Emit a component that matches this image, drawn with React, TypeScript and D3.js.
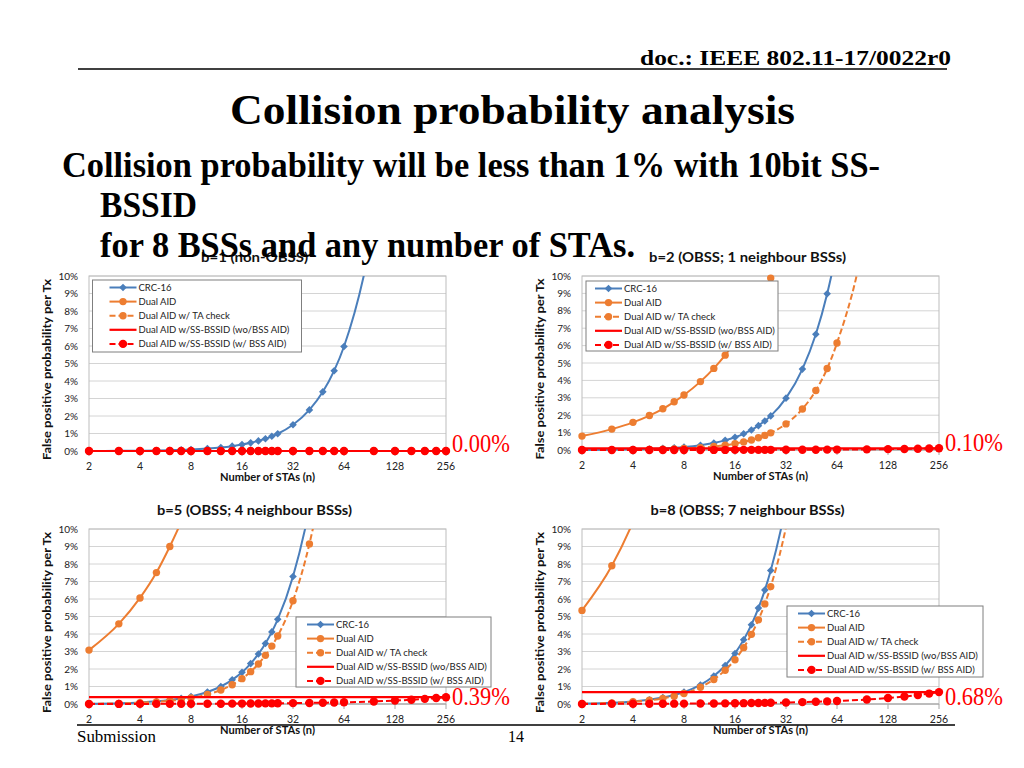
import React from "react";
import * as d3 from "d3";

// ---------- DATA ----------
const STA_COUNTS = [2, 3, 4, 5, 6, 7, 8, 10, 12, 14, 16, 18, 20, 22, 24, 26, 32, 40, 48, 56, 64, 96, 128, 160, 192, 224, 256];
const X_TICKS = [2, 4, 8, 16, 32, 64, 128, 256];
const Y_TICKS = [0, 1, 2, 3, 4, 5, 6, 7, 8, 9, 10];
const SERIES_NAMES = [
  "CRC-16",
  "Dual AID",
  "Dual AID w/ TA check",
  "Dual AID w/SS-BSSID (wo/BSS AID)",
  "Dual AID w/SS-BSSID (w/ BSS AID)",
];
const PANEL_TITLES = [
  "b=1 (non-OBSS)",
  "b=2 (OBSS; 1 neighbour BSSs)",
  "b=5 (OBSS; 4 neighbour BSSs)",
  "b=8 (OBSS; 7 neighbour BSSs)",
];
const END_LABELS = ["0.00%", "0.10%", "0.39%", "0.68%"];
const HEADER_DOC = "doc.: IEEE 802.11-17/0022r0";
const SLIDE_TITLE = "Collision probability analysis";
const BODY_LINES = [
  "Collision probability will be less than 1% with 10bit SS-",
  "BSSID",
  "for 8 BSSs and any number of STAs.",
];
const FOOTER_LEFT = "Submission";
const PAGE_NUMBER = "14";
const Y_AXIS_TITLE = "False positive probability per Tx";
const X_AXIS_TITLE = "Number of STAs (n)";

// values in percent, one per STA count
// b = 1
const CRC_B1 = [0.003, 0.009, 0.018, 0.031, 0.046, 0.064, 0.085, 0.137, 0.2, 0.278, 0.366, 0.466, 0.578, 0.702, 0.839, 0.987, 1.5, 2.35, 3.38, 4.59, 5.97, 13.0, 22.0, 32.2, 42.9, 53.4, 63.1];
const DUAL_B1 = [0, 0, 0, 0, 0, 0, 0, 0, 0, 0, 0, 0, 0, 0, 0, 0, 0, 0, 0, 0, 0, 0, 0, 0, 0, 0, 0];
const TA_B1 = [0, 0, 0, 0, 0, 0, 0, 0, 0, 0, 0, 0, 0, 0, 0, 0, 0, 0, 0, 0, 0, 0, 0, 0, 0, 0, 0];
const SSB_WO_B1 = [0, 0, 0, 0, 0, 0, 0, 0, 0, 0, 0, 0, 0, 0, 0, 0, 0, 0, 0, 0, 0, 0, 0, 0, 0, 0, 0];
const SSB_W_B1 = [0, 0, 0, 0, 0, 0, 0, 0, 0, 0, 0, 0, 0, 0, 0, 0, 0, 0, 0, 0, 0, 0, 0, 0, 0, 0, 0];
// b = 2
const CRC_B2 = [0.006, 0.018, 0.037, 0.061, 0.092, 0.128, 0.171, 0.274, 0.402, 0.554, 0.73, 0.93, 1.15, 1.4, 1.67, 1.96, 2.98, 4.65, 6.65, 8.98, 11.6, 24.3, 39.1, 54.0, 67.2, 78.3, 86.4];
const DUAL_B2 = [0.8, 1.2, 1.59, 1.98, 2.37, 2.77, 3.16, 3.93, 4.69, 5.45, 6.21, 6.96, 7.7, 8.43, 9.17, 9.88, 12.0, 14.8, 17.5, 20.1, 22.6, 31.9, 40.1, 47.4, 53.8, 59.2, 64.2];
const TA_B2 = [0.003, 0.009, 0.018, 0.031, 0.046, 0.064, 0.085, 0.137, 0.2, 0.278, 0.366, 0.466, 0.578, 0.702, 0.839, 0.987, 1.5, 2.36, 3.42, 4.68, 6.15, 13.0, 22.0, 32.2, 42.9, 53.4, 63.1];
const SSB_WO_B2 = [0.098, 0.098, 0.098, 0.098, 0.098, 0.098, 0.098, 0.098, 0.098, 0.098, 0.098, 0.098, 0.098, 0.098, 0.098, 0.098, 0.098, 0.098, 0.098, 0.098, 0.098, 0.098, 0.098, 0.098, 0.098, 0.098, 0.098];
const SSB_W_B2 = [0.001, 0.001, 0.002, 0.002, 0.002, 0.003, 0.003, 0.004, 0.005, 0.005, 0.006, 0.007, 0.008, 0.008, 0.009, 0.01, 0.012, 0.015, 0.018, 0.021, 0.024, 0.037, 0.049, 0.061, 0.073, 0.086, 0.098];
// b = 5
const CRC_B5 = [0.015, 0.046, 0.092, 0.153, 0.229, 0.32, 0.426, 0.684, 1.0, 1.38, 1.81, 2.31, 2.86, 3.46, 4.12, 4.84, 7.29, 11.2, 15.8, 20.9, 26.5, 50.1, 71.0, 85.6, 93.9, 97.8, 99.3];
const DUAL_B5 = [3.08, 4.58, 6.06, 7.51, 9.0, 10.4, 11.7, 14.5, 17.1, 19.6, 22.1, 24.5, 26.8, 29.1, 31.3, 33.4, 39.4, 46.6, 52.9, 58.4, 63.3, 77.6, 86.6, 91.9, 95.1, 97.0, 98.2];
const TA_B5 = [0.012, 0.037, 0.073, 0.122, 0.183, 0.256, 0.341, 0.548, 0.8, 1.1, 1.45, 1.85, 2.29, 2.78, 3.31, 3.89, 5.9, 9.15, 12.9, 17.1, 21.8, 42.6, 62.8, 78.8, 89.3, 95.3, 98.2];
const SSB_WO_B5 = [0.39, 0.39, 0.39, 0.39, 0.39, 0.39, 0.39, 0.39, 0.39, 0.39, 0.39, 0.39, 0.39, 0.39, 0.39, 0.39, 0.39, 0.39, 0.39, 0.39, 0.39, 0.39, 0.39, 0.39, 0.39, 0.39, 0.39];
const SSB_W_B5 = [0.003, 0.005, 0.006, 0.008, 0.009, 0.011, 0.012, 0.015, 0.018, 0.021, 0.024, 0.027, 0.03, 0.034, 0.037, 0.04, 0.049, 0.061, 0.073, 0.085, 0.097, 0.146, 0.195, 0.244, 0.293, 0.341, 0.39];
// b = 8
const CRC_B8 = [0.024, 0.073, 0.146, 0.244, 0.366, 0.51, 0.68, 1.09, 1.6, 2.2, 2.89, 3.67, 4.53, 5.48, 6.51, 7.63, 11.4, 17.3, 24.1, 31.3, 38.8, 67.1, 86.2, 95.5, 98.8, 99.8, 100];
const DUAL_B8 = [5.35, 7.9, 10.4, 12.8, 15.1, 17.4, 19.6, 23.9, 27.9, 31.6, 35.1, 38.4, 41.6, 44.5, 47.3, 49.9, 57.0, 65.0, 71.6, 77.0, 81.3, 92.0, 96.7, 98.6, 99.4, 99.8, 99.9];
const TA_B8 = [0.021, 0.064, 0.128, 0.214, 0.32, 0.448, 0.596, 0.957, 1.4, 1.93, 2.53, 3.22, 3.98, 4.81, 5.72, 6.71, 10.1, 15.3, 21.4, 28.0, 35.0, 62.2, 82.4, 93.4, 98.0, 99.5, 99.9];
const SSB_WO_B8 = [0.68, 0.68, 0.68, 0.68, 0.68, 0.68, 0.68, 0.68, 0.68, 0.68, 0.68, 0.68, 0.68, 0.68, 0.68, 0.68, 0.68, 0.68, 0.68, 0.68, 0.68, 0.68, 0.68, 0.68, 0.68, 0.68, 0.68];
const SSB_W_B8 = [0.005, 0.008, 0.011, 0.013, 0.016, 0.019, 0.021, 0.027, 0.032, 0.037, 0.042, 0.048, 0.053, 0.058, 0.064, 0.069, 0.085, 0.106, 0.127, 0.149, 0.17, 0.255, 0.34, 0.425, 0.51, 0.595, 0.68];

const PANEL_DATA = [
  [CRC_B1, DUAL_B1, TA_B1, SSB_WO_B1, SSB_W_B1],
  [CRC_B2, DUAL_B2, TA_B2, SSB_WO_B2, SSB_W_B2],
  [CRC_B5, DUAL_B5, TA_B5, SSB_WO_B5, SSB_W_B5],
  [CRC_B8, DUAL_B8, TA_B8, SSB_WO_B8, SSB_W_B8],
];

// ---------- STYLE / LAYOUT ----------
const BLUE = "#4A7EBB";
const ORANGE = "#ED7D31";
const RED = "#FF0000";
const SERIES_STYLE = [
  { color: BLUE, dash: null, marker: "diamond", r: 3.8, width: 2 },
  { color: ORANGE, dash: null, marker: "circle", r: 3.7, width: 2 },
  { color: ORANGE, dash: "6,3", marker: "circle", r: 3.7, width: 2 },
  { color: RED, dash: null, marker: "none", r: 0, width: 2.2 },
  { color: RED, dash: "6,3", marker: "circle", r: 4.2, width: 2 },
];
const LAYOUT = [
  { x0: 89, x1: 446, y0: 276, y1: 451, lg: { x: 92.5, y: 280, w: 209, h: 72, pad: 17 }, titleW: 107, endX: 452 },
  { x0: 582, x1: 939, y0: 276, y1: 450, lg: { x: 586, y: 281, w: 192, h: 70, pad: 9 }, titleW: 197, endX: 945 },
  { x0: 89, x1: 446, y0: 529, y1: 704, lg: { x: 296, y: 617, w: 195, h: 70, pad: 11 }, titleW: 195, endX: 452 },
  { x0: 582, x1: 939, y0: 529, y1: 704, lg: { x: 787, y: 606, w: 196, h: 71, pad: 11 }, titleW: 194, endX: 945 },
];
const SANS = "Lato, 'Liberation Sans', sans-serif";
const SERIF = "'Liberation Serif', 'Times New Roman', serif";

function Marker({ kind, x, y, r, color }: any) {
  if (kind === "diamond") {
    return <path d={`M${x},${y - r}L${x + r},${y}L${x},${y + r}L${x - r},${y}Z`} fill={color} />;
  }
  if (kind === "circle") return <circle cx={x} cy={y} r={r} fill={color} />;
  return null;
}

function Panel({ idx }: { idx: number }) {
  const L = LAYOUT[idx];
  const data = PANEL_DATA[idx];
  const x = d3.scaleLog().base(2).domain([2, 256]).range([L.x0, L.x1]);
  const y = d3.scaleLinear().domain([0, 10]).range([L.y1, L.y0]);
  const clipId = `clip${idx}`;
  const cx = (L.x0 + L.x1) / 2;
  const cy = (L.y0 + L.y1) / 2;
  const lineGen = d3
    .line<[number, number]>()
    .x((d) => x(d[0]))
    .y((d) => y(d[1]))
    .curve(d3.curveMonotoneX);
  const lg = L.lg;
  return (
    <g>
      <defs>
        <clipPath id={clipId}>
          <rect x={L.x0 - 10} y={L.y0} width={L.x1 - L.x0 + 20} height={L.y1 - L.y0 + 10} />
        </clipPath>
      </defs>
      {/* title */}
      <text x={cx - 13} y={L.y0 - 14} textAnchor="middle" fontFamily={SANS} fontWeight="bold" fontSize={13}
        textLength={L.titleW} lengthAdjust="spacingAndGlyphs" fill="#111">
        {PANEL_TITLES[idx]}
      </text>
      {/* gridlines */}
      {Y_TICKS.map((t) => (
        <line key={t} x1={L.x0} x2={L.x1} y1={y(t)} y2={y(t)} stroke="#D4D4D4" strokeWidth={1} />
      ))}
      <rect x={L.x0} y={L.y0} width={L.x1 - L.x0} height={L.y1 - L.y0} fill="none" stroke="#BDBDBD" strokeWidth={1} />
      {/* x axis */}
      <line x1={L.x0} x2={L.x1} y1={L.y1} y2={L.y1} stroke="#A6A6A6" strokeWidth={1} />
      {X_TICKS.map((t) => (
        <line key={t} x1={x(t)} x2={x(t)} y1={L.y1} y2={L.y1 + 5} stroke="#A6A6A6" strokeWidth={1} />
      ))}
      {X_TICKS.map((t) => (
        <text key={t} x={x(t)} y={L.y1 + 19} textAnchor="middle" fontFamily={SANS} fontSize={10.5} fill="#222">
          {t}
        </text>
      ))}
      {Y_TICKS.map((t) => (
        <text key={t} x={L.x0 - 11} y={y(t) + 3.5} textAnchor="end" fontFamily={SANS} fontSize={10} fill="#222">
          {t + "%"}
        </text>
      ))}
      <text x={cx} y={L.y1 + 30} textAnchor="middle" fontFamily={SANS} fontWeight="bold" fontSize={11}
        textLength={95} lengthAdjust="spacingAndGlyphs" fill="#111">
        {X_AXIS_TITLE}
      </text>
      <text transform={`translate(${L.x0 - 38},${cy + 6}) rotate(-90)`} textAnchor="middle" fontFamily={SANS}
        fontWeight="bold" fontSize={11.5} textLength={181} lengthAdjust="spacingAndGlyphs" fill="#111">
        {Y_AXIS_TITLE}
      </text>
      {/* series */}
      {data.map((vals, si) => {
        const st = SERIES_STYLE[si];
        const pts: [number, number][] = STA_COUNTS.map((n, i) => [n, vals[i]]);
        return (
          <g key={si}>
            <path d={lineGen(pts) || ""} fill="none" stroke={st.color} strokeWidth={st.width}
              strokeDasharray={st.dash || undefined} clipPath={`url(#${clipId})`} />
            {pts
              .filter((p) => p[1] <= 10.05)
              .map((p, i) => (
                <Marker key={i} kind={st.marker} x={x(p[0])} y={y(p[1])} r={st.r} color={st.color} />
              ))}
          </g>
        );
      })}
      {/* legend */}
      <rect x={lg.x} y={lg.y} width={lg.w} height={lg.h} fill="#fff" stroke="#7F7F7F" strokeWidth={1} />
      {SERIES_NAMES.map((name, si) => {
        const st = SERIES_STYLE[si];
        const ry = lg.y + 7.5 + si * 14.1;
        const sx0 = lg.x + lg.pad;
        const sx1 = sx0 + 27;
        return (
          <g key={si}>
            <line x1={sx0} x2={sx1} y1={ry} y2={ry} stroke={st.color} strokeWidth={st.width}
              strokeDasharray={st.dash || undefined} />
            <Marker kind={st.marker} x={(sx0 + sx1) / 2} y={ry} r={st.r} color={st.color} />
            <text x={sx1 + 2} y={ry + 3.4} fontFamily={SANS} fontSize={9.5} fill="#222">
              {name}
            </text>
          </g>
        );
      })}
      {/* end value label */}
      <text x={L.endX} y={L.y1 + 1} fontFamily={SERIF} fontSize={26} fill={RED}
        textLength={58} lengthAdjust="spacingAndGlyphs">
        {END_LABELS[idx]}
      </text>
    </g>
  );
}

export default function App() {
  return (
    <svg width={1024} height={768} viewBox="0 0 1024 768"
      style={{ position: "absolute", left: 0, top: 0, background: "#fff", display: "block" }}>
      <rect x={0} y={0} width={1024} height={768} fill="#fff" />
      {/* header */}
      <text x={640} y={65} fontFamily={SERIF} fontWeight="bold" fontSize={22} textLength={311}
        lengthAdjust="spacingAndGlyphs" fill="#000">
        {HEADER_DOC}
      </text>
      <line x1={78} x2={947} y1={69} y2={69} stroke="#000" strokeWidth={1.5} />
      <text x={230} y={124} fontFamily={SERIF} fontWeight="bold" fontSize={43} textLength={565}
        lengthAdjust="spacingAndGlyphs" fill="#000">
        {SLIDE_TITLE}
      </text>
      {[0, 1, 2, 3].map((i) => (
        <Panel key={i} idx={i} />
      ))}
      {/* body text on top */}
      <text x={62} y={177} fontFamily={SERIF} fontWeight="bold" fontSize={35} textLength={818}
        lengthAdjust="spacingAndGlyphs" fill="#000">
        {BODY_LINES[0]}
      </text>
      <text x={100} y={217} fontFamily={SERIF} fontWeight="bold" fontSize={35} textLength={97}
        lengthAdjust="spacingAndGlyphs" fill="#000">
        {BODY_LINES[1]}
      </text>
      <text x={100} y={257} fontFamily={SERIF} fontWeight="bold" fontSize={35} textLength={535}
        lengthAdjust="spacingAndGlyphs" fill="#000">
        {BODY_LINES[2]}
      </text>
      {/* footer */}
      <line x1={77} x2={955} y1={725} y2={725} stroke="#000" strokeWidth={1.5} />
      <text x={77} y={742} fontFamily={SERIF} fontSize={17} textLength={79} lengthAdjust="spacingAndGlyphs" fill="#000">
        {FOOTER_LEFT}
      </text>
      <text x={508} y={742} fontFamily={SERIF} fontSize={17} textLength={16} lengthAdjust="spacingAndGlyphs" fill="#000">
        {PAGE_NUMBER}
      </text>
    </svg>
  );
}
